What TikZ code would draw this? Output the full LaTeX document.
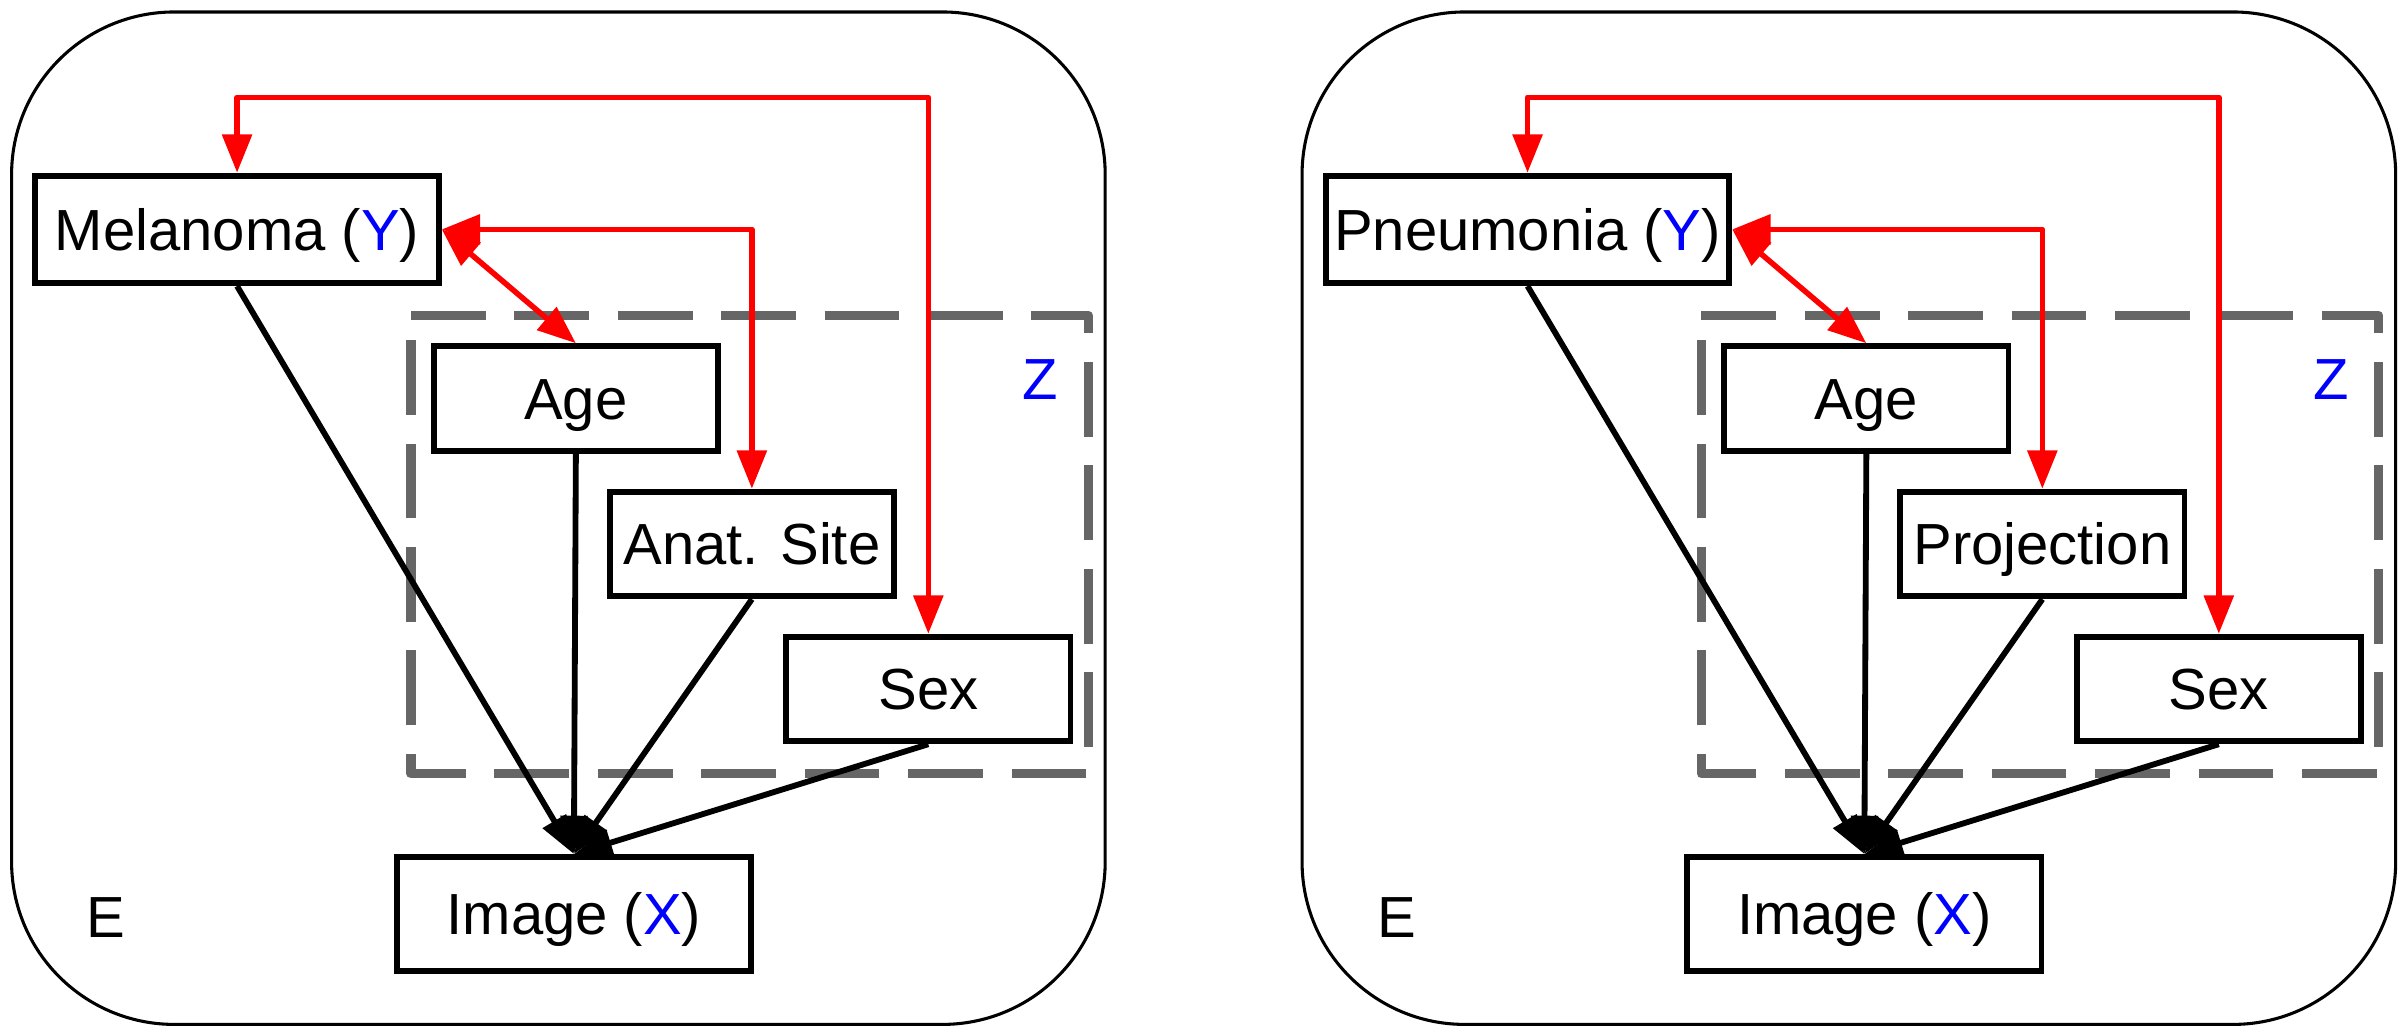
\documentclass[tikz,border=0pt]{standalone}
\usepackage{fontspec}
\setmainfont{Liberation Sans}
\usetikzlibrary{arrows.meta}
\definecolor{zgray}{RGB}{102,102,102}
\tikzset{
  mytip/.tip={Triangle[length=25pt,width=19pt]},
  blacktip/.tip={Triangle[length=25pt,width=17pt]},
  every node/.style={font=\fontsize{37.8}{45}\selectfont},
  panel/.style={draw, line width=2pt, rounded corners=106pt, minimum width=712.7pt, minimum height=659.8pt, inner sep=0pt},
  bigbox/.style={draw, line width=3.8pt, minimum width=263pt, minimum height=70.1pt, text height=27.1pt, text depth=0pt, inner sep=0pt},
  smallbox/.style={draw, line width=3.8pt, minimum width=185.2pt, minimum height=68.2pt, text height=27.1pt, text depth=0pt, inner sep=0pt},
  imgbox/.style={draw, line width=3.8pt, minimum width=230.8pt, minimum height=74.4pt, text height=27.1pt, text depth=0pt, inner sep=0pt},
  zarea/.style={minimum width=441pt, minimum height=298.3pt, inner sep=0pt},
  zdash/.style={draw=zgray, line width=6pt, dash pattern=on 48.7pt off 18.7pt, line join=round},
  label/.style={inner sep=0pt, text height=27.1pt, text depth=0pt},
  redarrow/.style={draw=red, line width=3.6pt, line join=round, mytip-mytip},
  blackarrow/.style={draw=black, line width=3.8pt, -blacktip},
}
\begin{document}
\begin{tikzpicture}[x=1pt,y=-1pt]
\useasboundingbox (0,0) rectangle (1568,672);

% ---------- left panel ----------
\node[panel] (Lpanel) at (363.9,337.7) {};
\node[zarea] (Lz) at (488.5,354.9) {};
\draw[zdash] (Lz.north west) -- (Lz.north east) -- (Lz.south east) -- (Lz.south west) -- cycle;
\node[bigbox] (LY) at (154.5,149.5) {Melanoma (\textcolor{blue}{Y})};
\node[smallbox] (Lage) at (375.3,259.7) {Age};
\node[smallbox] (Lanat) at (490,354.5) {Anat. Site};
\node[smallbox] (Lsex) at (605,449) {Sex};
\node[imgbox] (LX) at (374,595.7) {Image (\textcolor{blue}{X})};
\node[label, text=blue] (LZl) at (678,247) {Z};
\node[label] (LE) at (69,597.3) {E};
\coordinate (Ltop) at (380,63.4);
\draw[blackarrow] (LY.south) -- (LX.north);
\draw[blackarrow] (Lage.south) -- (LX.north);
\draw[blackarrow] (Lanat.south) -- (LX.north);
\draw[blackarrow] (Lsex.south) -- (LX.north);
\draw[redarrow] (LY.north) |- (Ltop) -| (Lsex.north);
\draw[redarrow] (LY.east) -| (Lanat.north);
\draw[redarrow] (LY.east) -- (Lage.north);

% ---------- right panel ----------
\node[panel] (Rpanel) at (1204.9,337.7) {};
\node[zarea] (Rz) at (1329.5,354.9) {};
\draw[zdash] (Rz.north west) -- (Rz.north east) -- (Rz.south east) -- (Rz.south west) -- cycle;
\node[bigbox] (RY) at (995.5,149.5) {Pneumonia (\textcolor{blue}{Y})};
\node[smallbox] (Rage) at (1216.3,259.7) {Age};
\node[smallbox] (Rproj) at (1331,354.5) {Projection};
\node[smallbox] (Rsex) at (1446,449) {Sex};
\node[imgbox] (RX) at (1215,595.7) {Image (\textcolor{blue}{X})};
\node[label, text=blue] (RZl) at (1519,247) {Z};
\node[label] (RE) at (910,597.3) {E};
\coordinate (Rtop) at (1221,63.4);
\draw[blackarrow] (RY.south) -- (RX.north);
\draw[blackarrow] (Rage.south) -- (RX.north);
\draw[blackarrow] (Rproj.south) -- (RX.north);
\draw[blackarrow] (Rsex.south) -- (RX.north);
\draw[redarrow] (RY.north) |- (Rtop) -| (Rsex.north);
\draw[redarrow] (RY.east) -| (Rproj.north);
\draw[redarrow] (RY.east) -- (Rage.north);
\end{tikzpicture}
\end{document}
